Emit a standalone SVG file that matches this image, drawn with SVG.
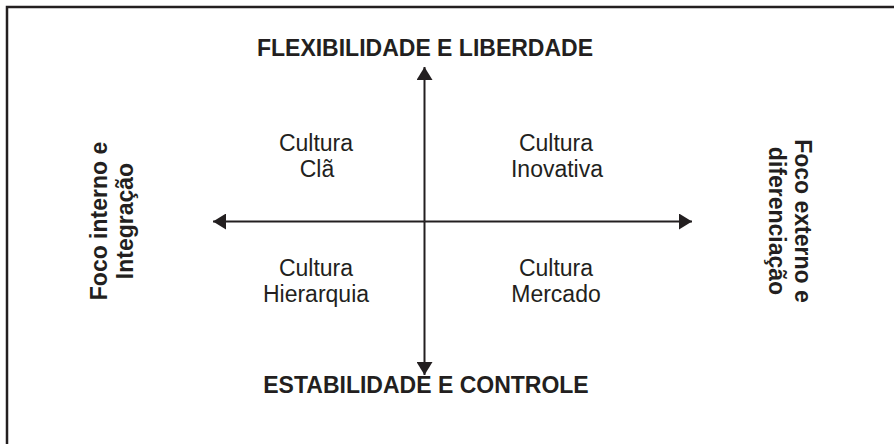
<svg xmlns="http://www.w3.org/2000/svg" width="894" height="444" viewBox="0 0 894 444">
<style>
  text { font-family: "Liberation Sans", Arial, sans-serif; font-size: 23px; fill: #231f20; text-anchor: middle; }
  .b { font-weight: bold; }
  .ax { stroke: #231f20; stroke-width: 2; fill: none; }
</style>
<defs>
  <marker id="ah" viewBox="0 0 13 16" refX="13" refY="8" markerWidth="13" markerHeight="16" markerUnits="userSpaceOnUse" orient="auto">
    <path d="M0,0 L13,8 L0,16 Z" fill="#231f20"/>
  </marker>
</defs>
<rect x="7" y="7" width="900" height="450" fill="#ffffff" stroke="#231f20" stroke-width="2.5"/>
<g id="connectors">
  <line class="ax" x1="424.5" y1="221.5" x2="424.5" y2="67" marker-end="url(#ah)"/>
  <line class="ax" x1="424.5" y1="221.5" x2="424.5" y2="375" marker-end="url(#ah)"/>
  <line class="ax" x1="424.5" y1="221.5" x2="213" y2="221.5" marker-end="url(#ah)"/>
  <line class="ax" x1="424.5" y1="221.5" x2="692" y2="221.5" marker-end="url(#ah)"/>
</g>
<g id="top-label"><text class="b" x="425" y="56">FLEXIBILIDADE E LIBERDADE</text></g>
<g id="bottom-label"><text class="b" x="426" y="393">ESTABILIDADE E CONTROLE</text></g>
<g id="left-label">
  <text class="b" transform="translate(107,221) rotate(-90)" x="0" y="0">Foco interno e</text>
  <text class="b" transform="translate(133,221) rotate(-90)" x="0" y="0">Integração</text>
</g>
<g id="right-label">
  <text class="b" transform="translate(795,221) rotate(90)" x="0" y="0">Foco externo e</text>
  <text class="b" transform="translate(769,221) rotate(90)" x="0" y="0">diferenciação</text>
</g>
<g id="cla"><text x="316" y="151">Cultura</text><text x="317" y="177">Clã</text></g>
<g id="inovativa"><text x="556" y="151">Cultura</text><text x="557" y="177">Inovativa</text></g>
<g id="hierarquia"><text x="316" y="276">Cultura</text><text x="316" y="302">Hierarquia</text></g>
<g id="mercado"><text x="556" y="276">Cultura</text><text x="556" y="302">Mercado</text></g>
</svg>
